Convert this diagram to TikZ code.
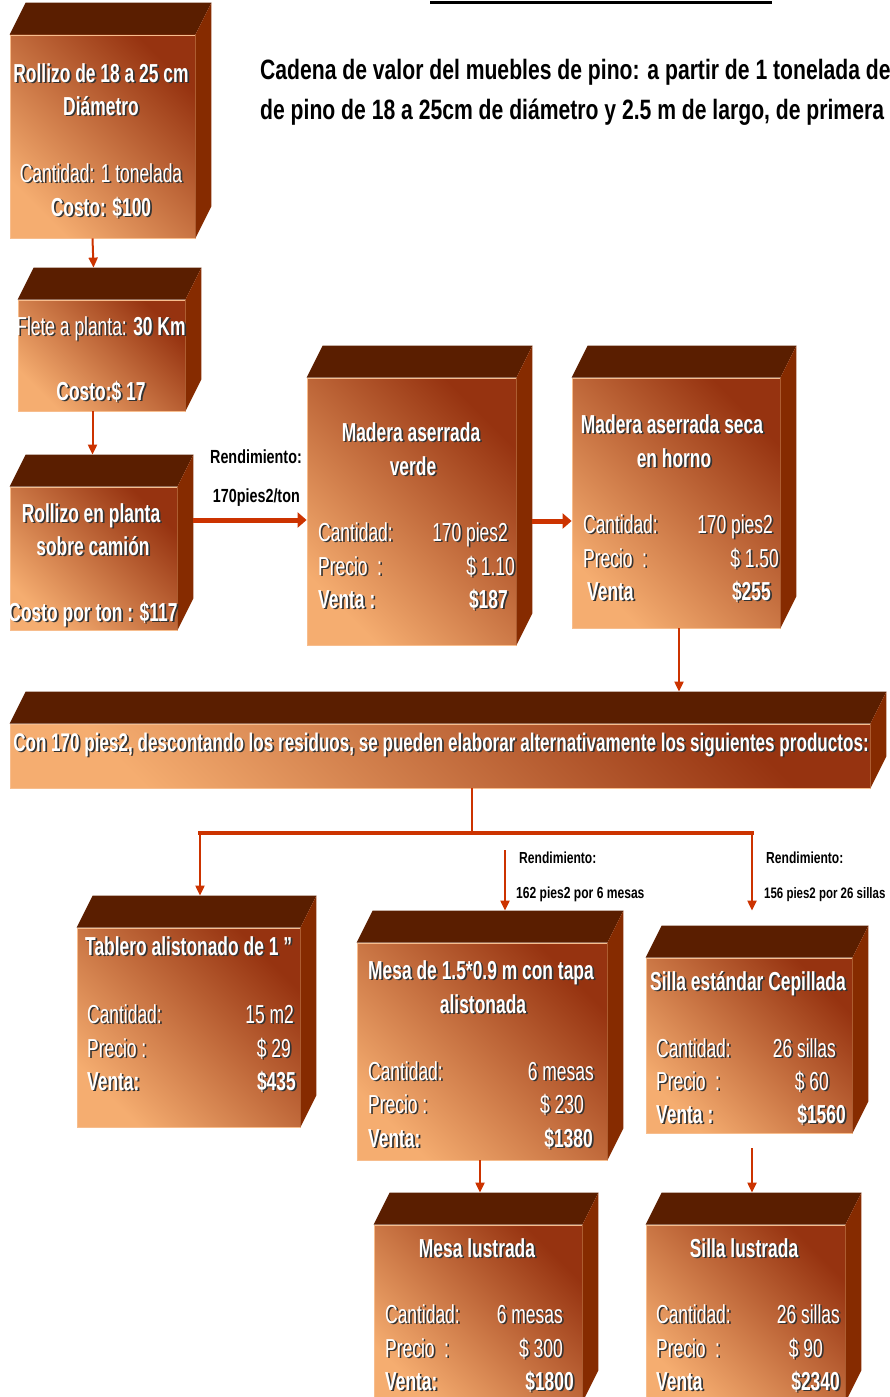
\documentclass[tikz,border=0pt]{standalone}
\usepackage{fontspec}
\setmainfont{Liberation Sans}
\newfontfamily\angosta{Liberation Sans}[FakeStretch=0.67]
\newfontfamily\media{Liberation Sans}[FakeStretch=0.755]
\usetikzlibrary{arrows.meta}

\definecolor{flechac}{HTML}{CC3300}
\definecolor{tapac}{HTML}{5A1E00}
\definecolor{ladoc}{HTML}{862B00}
\definecolor{clarac}{HTML}{F5AD70}
\definecolor{mediac}{HTML}{D08355}
\definecolor{oscurac}{HTML}{963310}
\definecolor{sombrac}{HTML}{333333}

% fuentes de las cajas
\newcommand{\fn}{\angosta\fontsize{26}{30}\selectfont}
\newcommand{\fb}{\angosta\bfseries\fontsize{26}{30}\selectfont}

% texto blanco con sombra
\newcommand{\sombra}[1]{\leavevmode\rlap{\kern1.7pt\raisebox{-1.7pt}{\textcolor{sombrac}{#1}}}#1}

% caja 3D: nombre, x izq, y sup, x der, y inf
\newcommand{\caja}[5]{%
  \node[cara, minimum width={(#4-#2)*1pt}, minimum height={(#5-#3)*1pt}] (#1) at ({(#2+#4)/2},{(#3+#5)/2}) {};
  \fill[tapa] (#1.north west) -- ++(16,-32) -- ([shift={(16pt,32pt)}]#1.north east) -- (#1.north east) -- cycle;
  \fill[lado] (#1.north east) -- ++(16,-32) -- ([shift={(16pt,32pt)}]#1.south east) -- (#1.south east) -- cycle;
  \coordinate (#1-tapa) at ([yshift=32pt]#1.north);
}

% fila de datos: nombre, x izq, x der, y, etiqueta, valor, fuente
\newcommand{\fila}[7]{%
  \node[dato, font=#7, anchor=base west] (#1e) at (#2,{#4+9}) {\sombra{#5}};
  \node[dato, font=#7, anchor=base east] (#1v) at (#3,{#4+9}) {\sombra{#6}};
}

\begin{document}
\begin{tikzpicture}[x=1pt, y=-1pt,
  cara/.style={rectangle, inner sep=0pt, draw=clarac!80!white, line width=0.8pt,
    top color=oscurac, middle color=mediac, bottom color=clarac, shading angle=-45},
  tapa/.style={fill=tapac},
  lado/.style={fill=ladoc},
  dato/.style={text=white, inner sep=0pt},
  tb/.style={dato, font=\fb, anchor=base},
  tl/.style={dato, font=\fn, anchor=base},
  titulo/.style={inner sep=0pt, font=\media\bfseries\fontsize{28}{32}\selectfont},
  rend/.style={inner sep=0pt, font=\media\bfseries\fontsize{16}{19}\selectfont},
  rendg/.style={inner sep=0pt, font=\media\bfseries\fontsize{19}{22}\selectfont},
  flecha/.style={draw=flechac, line width=2pt, -{Triangle[length=10pt,width=9pt]}},
  flechag/.style={draw=flechac, line width=5pt, -{Triangle[length=9pt,width=15pt]}},
  rama/.style={draw=flechac, line width=3.5pt}]
\useasboundingbox (0,0) rectangle (889,1397);

% titulo
\draw[line width=3pt] (430,3) -- (772,3);
\node[titulo, anchor=base west] (tit1) at (260,80) {Cadena de valor del muebles de pino: a partir de 1 tonelada de};
\node[titulo, anchor=base west] (tit2) at (260,119) {de pino de 18 a 25cm de diámetro y 2.5 m de largo, de primera};

% cajas
\caja{b1}{10}{35}{195}{238}
\caja{b2}{18}{300}{185}{411}
\caja{b3}{10}{487}{177}{630}
\caja{b4}{307}{378}{516}{645}
\caja{b5}{572}{378}{780}{628}
\caja{barra}{10}{724}{870}{788}
\caja{b6}{77}{928}{300}{1127}
\caja{b7}{357}{943}{607}{1160}
\caja{b8}{646}{958}{852}{1133}
\caja{b9}{374}{1225}{582}{1402}
\caja{b10}{646}{1225}{845}{1402}

% textos de las cajas
\node[tb] (b1a) at (101,82) {\sombra{Rollizo de 18 a 25 cm}};
\node[tb] (b1b) at (101,115) {\sombra{Diámetro}};
\node[tl] (b1c) at (101,182) {\sombra{Cantidad: 1 tonelada}};
\node[tb] (b1d) at (101,216) {\sombra{Costo: \$100}};

\node[tl] (b2a) at (101,335) {\sombra{Flete a planta: \textbf{30 Km}}};
\node[tb] (b2b) at (101,400) {\sombra{Costo:\$ 17}};

\node[tb] (b3a) at (91,522) {\sombra{Rollizo en planta}};
\node[tb] (b3b) at (93,555) {\sombra{sobre camión}};
\node[tb] (b3c) at (93,621) {\sombra{Costo por ton : \$117}};

\node[tb] (b4a) at (411,441) {\sombra{Madera aserrada}};
\node[tb] (b4b) at (413,475) {\sombra{verde}};
\fila{b4c}{318}{508}{532}{Cantidad:}{170 pies2}{\fn}
\fila{b4p}{318}{515}{566}{Precio\ \ :}{\$ 1.10}{\fn}
\fila{b4v}{318}{508}{599}{Venta :}{\$187}{\fb}

\node[tb] (b5a) at (672,433) {\sombra{Madera aserrada seca}};
\node[tb] (b5b) at (674,467) {\sombra{en horno}};
\fila{b5c}{583}{773}{524}{Cantidad:}{170 pies2}{\fn}
\fila{b5p}{583}{779}{558}{Precio\ \ :}{\$ 1.50}{\fn}
\fila{b5v}{587}{771}{591}{Venta}{\$255}{\fb}

\node[tb, font=\angosta\bfseries\fontsize{25.5}{30}\selectfont] (barraa) at (441,751) {\sombra{Con 170 pies2, descontando los residuos, se pueden elaborar alternativamente los siguientes productos:}};

\node[tb, anchor=base west] (b6a) at (85,955) {\sombra{Tablero alistonado de 1 ”}};
\fila{b6c}{87}{294}{1014}{Cantidad:}{15 m2}{\fn}
\fila{b6p}{87}{291}{1048}{Precio :}{\$ 29}{\fn}
\fila{b6v}{87}{296}{1081}{Venta:}{\$435}{\fb}

\node[tb] (b7a) at (481,979) {\sombra{Mesa de 1.5*0.9 m con tapa}};
\node[tb] (b7b) at (483,1013) {\sombra{alistonada}};
\fila{b7c}{368}{594}{1071}{Cantidad:}{6 mesas}{\fn}
\fila{b7p}{368}{584}{1104}{Precio :}{\$ 230}{\fn}
\fila{b7v}{368}{593}{1138}{Venta:}{\$1380}{\fb}

\node[tb] (b8a) at (748,990) {\sombra{Silla estándar Cepillada}};
\fila{b8c}{656}{836}{1048}{Cantidad:}{26 sillas}{\fn}
\fila{b8p}{656}{829}{1081}{Precio\ \ :}{\$ 60}{\fn}
\fila{b8v}{656}{846}{1114}{Venta :}{\$1560}{\fb}

\node[tb] (b9a) at (477,1257) {\sombra{Mesa lustrada}};
\fila{b9c}{385}{563}{1314}{Cantidad:}{6 mesas}{\fn}
\fila{b9p}{385}{563}{1348}{Precio\ \ :}{\$ 300}{\fn}
\fila{b9v}{385}{574}{1381}{Venta:}{\$1800}{\fb}

\node[tb] (b10a) at (744,1257) {\sombra{Silla lustrada}};
\fila{b10c}{656}{840}{1314}{Cantidad:}{26 sillas}{\fn}
\fila{b10p}{656}{823}{1348}{Precio\ \ :}{\$ 90}{\fn}
\fila{b10v}{656}{840}{1381}{Venta}{\$2340}{\fb}

% rendimientos
\node[rendg, anchor=base east] (r1a) at (302,463) {Rendimiento:};
\node[rendg, anchor=base east] (r1b) at (300,502) {170pies2/ton};
\node[rend, anchor=base west] (r2a) at (519,863) {Rendimiento:};
\node[rend, anchor=base west] (r2b) at (516,898) {162 pies2 por 6 mesas};
\node[rend, anchor=base west] (r3a) at (766,863) {Rendimiento:};
\node[rend, anchor=base west, font=\media\bfseries\fontsize{15.2}{19}\selectfont] (r3b) at (764,898) {156 pies2 por 26 sillas};

% flechas
\draw[flecha] ([xshift=-10pt]b1.south) -- ([xshift=-9pt]b1.south |- b2-tapa);
\draw[flecha] ([xshift=-9pt]b2.south) -- ([xshift=-9pt]b2.south |- b3-tapa);
\draw[flechag] ([xshift=16pt,yshift=38.5pt]b3.east) -- ([yshift=-8.5pt]b4.west);
\draw[flechag] ([xshift=16pt,yshift=-9.5pt]b4.east) -- ([yshift=-18pt]b5.west);
\draw[flecha] ([xshift=3pt]b5.south) -- ([xshift=3pt]b5.south |- barra-tapa);

\coordinate (rama) at (472,833);
\coordinate (ramaI) at (200,833);
\coordinate (ramaD) at (752,833);
\coordinate (medio) at (505,850);
\draw[rama, line width=2.5pt] (barra.south -| rama) -- (rama);
\draw[rama, line cap=rect] (ramaI) -- (ramaD);
\draw[flecha] (ramaI) -- (ramaI |- b6-tapa);
\draw[flecha] (ramaD) -- (ramaD |- b7-tapa);
\draw[flecha] (medio) -- (medio |- b7-tapa);
\draw[flecha] ([xshift=-2pt]b7.south) -- ([xshift=-2pt]b7.south |- b9-tapa);
\draw[flecha] ([xshift=3pt,yshift=-15pt]b8.south) -- ([xshift=3pt]b8.south |- b10-tapa);
\end{tikzpicture}
\end{document}
